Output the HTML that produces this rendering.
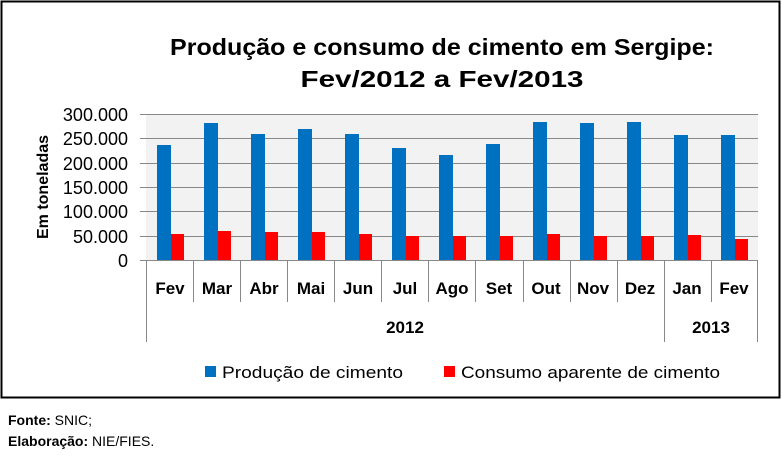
<!DOCTYPE html>
<html><head><meta charset="utf-8"><style>
html,body{margin:0;padding:0;background:#fff;}
svg{display:block;font-family:"Liberation Sans",sans-serif;}
</style></head><body>
<svg width="782" height="466" viewBox="0 0 782 466">
<rect x="1.5" y="1.5" width="778" height="396" fill="#fff" stroke="#000" stroke-width="2"/>
<text x="442" y="55" font-size="23" font-weight="bold" text-anchor="middle" textLength="544" lengthAdjust="spacingAndGlyphs">Produção e consumo de cimento em Sergipe:</text>
<text x="442" y="87" font-size="23" font-weight="bold" text-anchor="middle" textLength="283" lengthAdjust="spacingAndGlyphs">Fev/2012 a Fev/2013</text>
<rect x="146" y="114" width="612" height="146" fill="#f2f2f2"/>
<g stroke="#888" stroke-width="1">
<line x1="140" x2="758" y1="114.5" y2="114.5"/>
<line x1="140" x2="758" y1="138.5" y2="138.5"/>
<line x1="140" x2="758" y1="163.5" y2="163.5"/>
<line x1="140" x2="758" y1="187.5" y2="187.5"/>
<line x1="140" x2="758" y1="211.5" y2="211.5"/>
<line x1="140" x2="758" y1="236.5" y2="236.5"/>
<line x1="140" x2="758" y1="260.5" y2="260.5"/>
<line x1="146.5" x2="146.5" y1="260" y2="342"/>
<line x1="664.5" x2="664.5" y1="260" y2="342"/>
<line x1="757.5" x2="757.5" y1="260" y2="342"/>
<line x1="193.5" x2="193.5" y1="260" y2="302"/>
<line x1="240.5" x2="240.5" y1="260" y2="302"/>
<line x1="287.5" x2="287.5" y1="260" y2="302"/>
<line x1="334.5" x2="334.5" y1="260" y2="302"/>
<line x1="381.5" x2="381.5" y1="260" y2="302"/>
<line x1="428.5" x2="428.5" y1="260" y2="302"/>
<line x1="475.5" x2="475.5" y1="260" y2="302"/>
<line x1="523.5" x2="523.5" y1="260" y2="302"/>
<line x1="570.5" x2="570.5" y1="260" y2="302"/>
<line x1="617.5" x2="617.5" y1="260" y2="302"/>
<line x1="711.5" x2="711.5" y1="260" y2="302"/>
</g>
<g fill="#0070c0">
<rect x="157" y="145" width="14" height="115"/>
<rect x="204" y="123" width="14" height="137"/>
<rect x="251" y="134" width="14" height="126"/>
<rect x="298" y="129" width="14" height="131"/>
<rect x="345" y="134" width="14" height="126"/>
<rect x="392" y="148" width="14" height="112"/>
<rect x="439" y="155" width="14" height="105"/>
<rect x="486" y="144" width="14" height="116"/>
<rect x="533" y="122" width="14" height="138"/>
<rect x="580" y="123" width="14" height="137"/>
<rect x="627" y="122" width="14" height="138"/>
<rect x="674" y="135" width="14" height="125"/>
<rect x="721" y="135" width="14" height="125"/>
</g>
<g fill="#ff0000">
<rect x="171" y="234" width="13" height="26"/>
<rect x="218" y="231" width="13" height="29"/>
<rect x="265" y="232" width="13" height="28"/>
<rect x="312" y="232" width="13" height="28"/>
<rect x="359" y="234" width="13" height="26"/>
<rect x="406" y="236" width="13" height="24"/>
<rect x="453" y="236" width="13" height="24"/>
<rect x="500" y="236" width="13" height="24"/>
<rect x="547" y="234" width="13" height="26"/>
<rect x="594" y="236" width="13" height="24"/>
<rect x="641" y="236" width="13" height="24"/>
<rect x="688" y="235" width="13" height="25"/>
<rect x="735" y="239" width="13" height="21"/>
</g>
<g font-size="18" text-anchor="end" fill="#000">
<text x="128" y="121">300.000</text>
<text x="128" y="145">250.000</text>
<text x="128" y="170">200.000</text>
<text x="128" y="194">150.000</text>
<text x="128" y="218">100.000</text>
<text x="128" y="243">50.000</text>
<text x="128" y="267">0</text>
</g>
<text transform="translate(48,187) rotate(-90)" font-size="16" font-weight="bold" text-anchor="middle">Em toneladas</text>
<g font-size="17" font-weight="bold" text-anchor="middle">
<text x="170" y="294">Fev</text>
<text x="217" y="294">Mar</text>
<text x="264" y="294">Abr</text>
<text x="311" y="294">Mai</text>
<text x="358" y="294">Jun</text>
<text x="405" y="294">Jul</text>
<text x="452" y="294">Ago</text>
<text x="499" y="294">Set</text>
<text x="546" y="294">Out</text>
<text x="593" y="294">Nov</text>
<text x="640" y="294">Dez</text>
<text x="687" y="294">Jan</text>
<text x="734" y="294">Fev</text>
<text x="405" y="333">2012</text>
<text x="711" y="333">2013</text>
</g>
<rect x="205" y="366" width="11" height="11" fill="#0070c0"/>
<text x="222" y="378" font-size="17" textLength="181" lengthAdjust="spacingAndGlyphs">Produção de cimento</text>
<rect x="444" y="366" width="11" height="11" fill="#ff0000"/>
<text x="461" y="378" font-size="17" textLength="259" lengthAdjust="spacingAndGlyphs">Consumo aparente de cimento</text>
<text x="8" y="425" font-size="14"><tspan font-weight="bold">Fonte:</tspan> SNIC;</text>
<text x="8" y="446" font-size="14"><tspan font-weight="bold">Elaboração:</tspan> NIE/FIES.</text>
</svg>
</body></html>
